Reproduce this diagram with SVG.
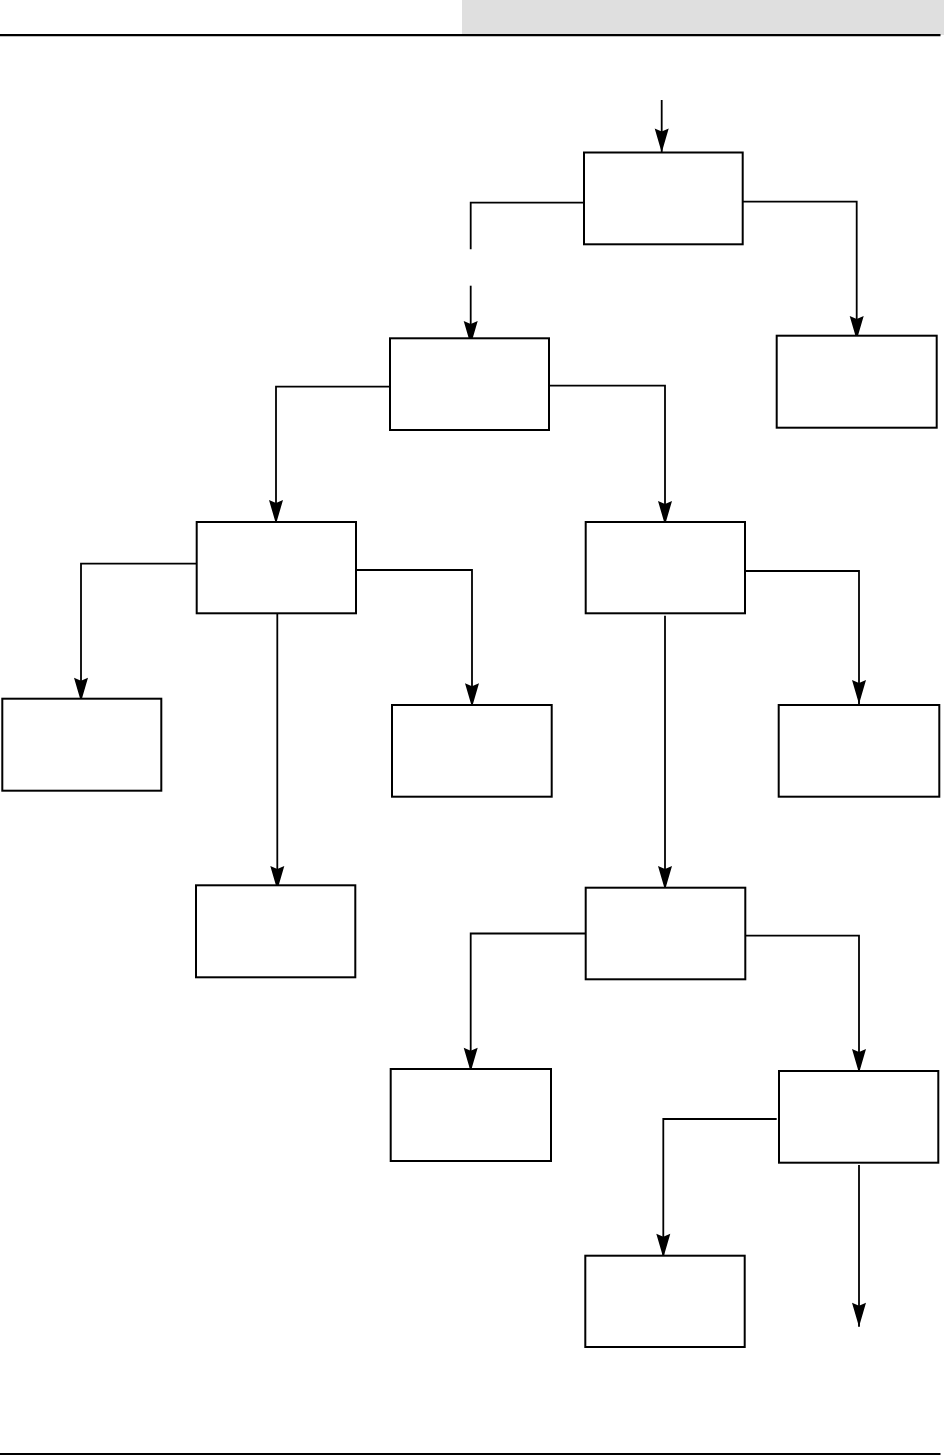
<svg xmlns="http://www.w3.org/2000/svg" width="944" height="1456" viewBox="0 0 944 1456">
<style>
.box{fill:#ffffff;stroke:#000000;stroke-width:2}
.con{fill:none;stroke:#000000;stroke-width:1.8}
.rule{stroke:#000000;stroke-width:2.2}
</style>
<defs>
<marker id="ah" markerUnits="userSpaceOnUse" markerWidth="26" markerHeight="16" viewBox="-25 -8 26 16" refX="0" refY="0" orient="auto">
<path d="M0,0 L-24,-7 L-21,0 L-24,7 Z" fill="#000000"/>
</marker>
</defs>
<rect width="944" height="1456" fill="#ffffff"/>
<g id="header">
<rect x="462" y="0" width="482" height="35" fill="#dfdfdf"/>
<line class="rule" x1="0" y1="35.2" x2="940.5" y2="35.2"/>
<line class="rule" x1="0" y1="1454" x2="940.5" y2="1454"/>
</g>
<g id="connectors">
<path class="con" d="M661.7,100 V152.5" marker-end="url(#ah)"/>
<path class="con" d="M584,202.7 H470.7 V249.3"/>
<path class="con" d="M470.7,285.7 V345" marker-end="url(#ah)"/>
<path class="con" d="M742.7,201.7 H856.7 V340" marker-end="url(#ah)"/>
<path class="con" d="M390,386.7 H276 V524" marker-end="url(#ah)"/>
<path class="con" d="M549,385.7 H665 V525" marker-end="url(#ah)"/>
<path class="con" d="M196.7,563.6 H81 V701.7" marker-end="url(#ah)"/>
<path class="con" d="M277.3,614 V890" marker-end="url(#ah)"/>
<path class="con" d="M356,570 H472 V707.3" marker-end="url(#ah)"/>
<path class="con" d="M665,615.7 V890" marker-end="url(#ah)"/>
<path class="con" d="M745,571 H859 V704" marker-end="url(#ah)"/>
<path class="con" d="M585.7,933.5 H470.7 V1071.7" marker-end="url(#ah)"/>
<path class="con" d="M745.3,935.7 H859 V1073" marker-end="url(#ah)"/>
<path class="con" d="M776.7,1119 H663.3 V1257.7" marker-end="url(#ah)"/>
<path class="con" d="M859,1165 V1326.7" marker-end="url(#ah)"/>
</g>
<g id="nodeA"><rect class="box" x="584" y="152.5" width="158.7" height="91.8"/></g>
<g id="nodeB"><rect class="box" x="390" y="338.3" width="159" height="91.7"/></g>
<g id="nodeC"><rect class="box" x="776.7" y="335.7" width="160" height="92"/></g>
<g id="nodeD"><rect class="box" x="196.7" y="522" width="159.3" height="91.3"/></g>
<g id="nodeE"><rect class="box" x="585.7" y="522" width="159.3" height="91.3"/></g>
<g id="nodeF"><rect class="box" x="2.3" y="698.7" width="159" height="92"/></g>
<g id="nodeG"><rect class="box" x="392" y="705" width="159.7" height="91.7"/></g>
<g id="nodeH"><rect class="box" x="778.7" y="705" width="160.6" height="91.7"/></g>
<g id="nodeI"><rect class="box" x="196" y="885.3" width="159.3" height="92"/></g>
<g id="nodeJ"><rect class="box" x="585.7" y="887.7" width="159.6" height="91.6"/></g>
<g id="nodeK"><rect class="box" x="390.7" y="1069" width="160.3" height="92"/></g>
<g id="nodeL"><rect class="box" x="779" y="1071" width="159.3" height="91.7"/></g>
<g id="nodeM"><rect class="box" x="585.3" y="1255.7" width="159.4" height="91.3"/></g>
</svg>
